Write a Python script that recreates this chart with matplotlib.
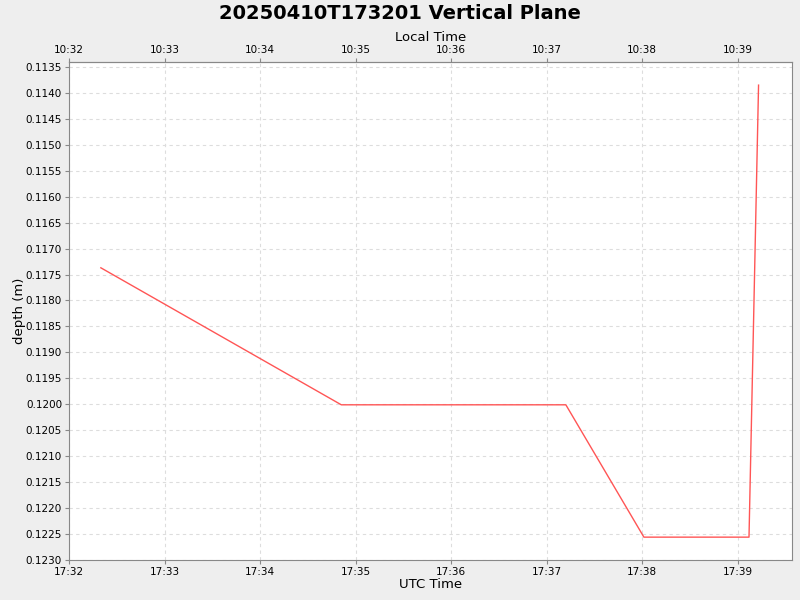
import matplotlib
matplotlib.use("Agg")
import matplotlib.pyplot as plt
import matplotlib.dates as mdates
from datetime import datetime

# Data (UTC times and depth in metres)
times_utc = ["17:32:20", "17:34:51", "17:37:12", "17:38:01", "17:39:07", "17:39:13"]
depths = [0.11737, 0.12001, 0.12001, 0.12256, 0.12256, 0.11385]
y_ticks = [0.1135 + 0.0005 * i for i in range(20)]

base = "2025-04-10 "
t = [datetime.strptime(base + s, "%Y-%m-%d %H:%M:%S") for s in times_utc]
x0 = datetime(2025, 4, 10, 17, 32, 0)
x1 = datetime(2025, 4, 10, 17, 39, 34)

fig = plt.figure(figsize=(8, 6), dpi=100, facecolor="#EEEEEE")
ax = fig.add_axes([0.08625, 0.0667, 0.90375, 0.83])
ax.set_facecolor("white")
ax.plot(t, depths, color="#FF5555", lw=1.0)

ax.set_xlim(x0, x1)
ax.set_ylim(0.12300, 0.113404)
ax.set_yticks(y_ticks)
ax.yaxis.set_major_formatter(matplotlib.ticker.FuncFormatter(lambda v, p: f"{v:.4f}"))
ax.xaxis.set_major_locator(mdates.MinuteLocator())
ax.xaxis.set_major_formatter(mdates.DateFormatter("%H:%M"))

ax.grid(True, color="#DDDDDD", linestyle=(0, (3, 3)), lw=0.8)
for s in ax.spines.values():
    s.set_color("#888888")
ax.tick_params(colors="#888888", labelcolor="black", labelsize=7.5, length=3)
ax.tick_params(axis="x", pad=2)
ax.tick_params(axis="y", pad=2)

ax.set_xlabel("UTC Time", fontsize=9.5, labelpad=1)
ax.set_ylabel("depth (m)", fontsize=9.5)
ax.yaxis.set_label_coords(-0.059, 0.5)

off = 7 / 24.0
sec = ax.secondary_xaxis("top", functions=(lambda x: x - off, lambda x: x + off))
sec.xaxis.set_major_locator(mdates.MinuteLocator())
sec.xaxis.set_major_formatter(mdates.DateFormatter("%H:%M"))
sec.tick_params(colors="#888888", labelcolor="black", labelsize=7.5, length=3, pad=2)
sec.spines["top"].set_color("#888888")
sec.set_xlabel("Local Time", fontsize=9.5, labelpad=3)

fig.text(0.5, 0.993, "20250410T173201 Vertical Plane", ha="center", va="top",
         fontsize=14, fontweight="bold")

fig.savefig("out.png", dpi=100, facecolor=fig.get_facecolor())
